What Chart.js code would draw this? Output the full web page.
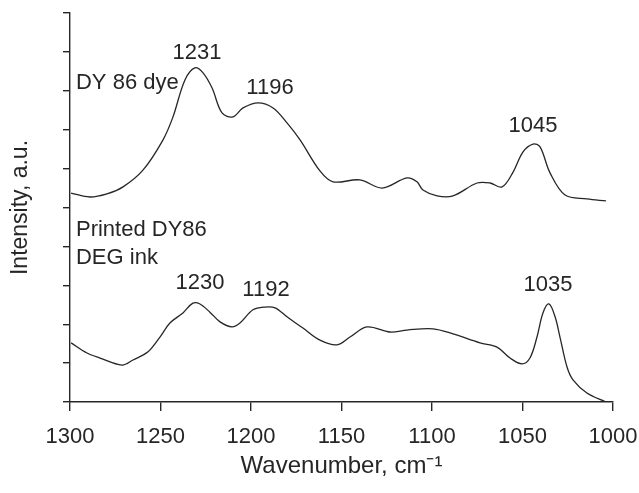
<!DOCTYPE html>
<html>
<head>
<meta charset="utf-8">
<script src="https://cdn.jsdelivr.net/npm/chart.js@4/dist/chart.umd.min.js"></script>
<style>
  html, body { margin: 0; padding: 0; background: #fff; }
  #wrap { width: 639px; height: 493px; }
</style>
</head>
<body>
<div id="wrap"><canvas id="c" width="639" height="493"></canvas></div>
<script>
// ---- Data ----
const dyeWavenumber = [1299.4, 1289, 1279.6, 1270.7, 1259.7, 1248.6, 1243.1, 1236.5, 1231, 1226.5, 1221.5, 1216, 1210, 1204.4, 1196.1, 1187.8, 1180, 1172.9, 1161.9, 1154.7, 1139.8, 1127.6, 1113.8, 1108.3, 1105, 1097.2, 1088.4, 1075.1, 1067.9, 1061.3, 1055.2, 1049.7, 1044.2, 1040.3, 1034.8, 1026.5, 1014.4, 1003.9];
const dyeIntensity = [5.37, 5.27, 5.35, 5.53, 5.96, 6.74, 7.33, 8.28, 8.59, 8.46, 8.07, 7.43, 7.33, 7.56, 7.69, 7.56, 7.17, 6.74, 5.94, 5.66, 5.71, 5.50, 5.76, 5.66, 5.45, 5.30, 5.30, 5.63, 5.63, 5.53, 5.91, 6.43, 6.63, 6.56, 5.89, 5.32, 5.22, 5.17];

const inkWavenumber = [1299.4, 1290.6, 1283.4, 1271.3, 1265.2, 1256.9, 1250.3, 1244.8, 1237.6, 1232.1, 1228.2, 1222.7, 1217.1, 1210.5, 1206.1, 1198.9, 1192.3, 1186.7, 1180.1, 1171.3, 1161.9, 1152.5, 1145.3, 1135.9, 1123.2, 1113.8, 1099.4, 1088.4, 1073.5, 1064.1, 1056.9, 1050.3, 1045.9, 1042, 1038.7, 1035.4, 1032, 1029.3, 1025.4, 1022.1, 1014.4, 1003.9];
const inkIntensity = [1.52, 1.26, 1.13, 0.95, 1.08, 1.29, 1.67, 2.03, 2.29, 2.54, 2.52, 2.31, 2.06, 1.93, 2.03, 2.37, 2.44, 2.42, 2.19, 1.90, 1.59, 1.47, 1.67, 1.93, 1.80, 1.85, 1.88, 1.75, 1.52, 1.41, 1.13, 0.98, 1.13, 1.67, 2.29, 2.52, 2.19, 1.67, 0.90, 0.57, 0.23, 0.0];

const xTickValues = [1300, 1250, 1200, 1150, 1100, 1050, 1000];

// Text annotations anchored in data units
const annoText = ['1231', '1196', '1045', '1230', '1192', '1035', 'DY 86 dye', 'Printed DY86', 'DEG ink'];
const annoX    = [1229.8, 1189.5, 1044.2, 1228.2, 1191.7, 1035.9, 1296.7, 1296.7, 1296.7];
const annoY    = [8.97, 8.07, 7.10, 3.06, 2.88, 3.01, 8.2, 4.42, 3.70];
const annoAlign = ['center', 'center', 'center', 'center', 'center', 'center', 'left', 'left', 'left'];

const toPoints = (xs, ys) => xs.map((x, i) => ({ x: x, y: ys[i] }));

const FONT = 'Liberation Sans, Arial, Helvetica, sans-serif';
const INK = '#262626';

const annotationPlugin = {
  id: 'annotations',
  afterDatasetsDraw(chart) {
    const { ctx, scales } = chart;
    ctx.save();
    ctx.fillStyle = INK;
    ctx.font = '22px ' + FONT;
    ctx.textBaseline = 'middle';
    annoText.forEach((t, i) => {
      ctx.textAlign = annoAlign[i];
      ctx.fillText(t, scales.x.getPixelForValue(annoX[i]), scales.y.getPixelForValue(annoY[i]));
    });
    ctx.restore();
  }
};

new Chart(document.getElementById('c'), {
  type: 'line',
  data: {
    datasets: [
      { label: 'DY 86 dye', data: toPoints(dyeWavenumber, dyeIntensity) },
      { label: 'Printed DY86 DEG ink', data: toPoints(inkWavenumber, inkIntensity) }
    ]
  },
  options: {
    responsive: false,
    animation: false,
    devicePixelRatio: 1,
    layout: { padding: { left: 0, right: 26, top: 13, bottom: 0 } },
    elements: {
      line: { borderColor: INK, borderWidth: 1.3, tension: 0.35, fill: false },
      point: { radius: 0, hoverRadius: 0 }
    },
    plugins: {
      legend: { display: false },
      tooltip: { enabled: false }
    },
    scales: {
      x: {
        type: 'linear',
        reverse: true,
        min: 1000,
        max: 1300,
        afterBuildTicks(scale) { scale.ticks = xTickValues.map(v => ({ value: v })); },
        afterFit(scale) { scale.height = 91; scale.paddingLeft = 0; scale.paddingRight = 0; },
        ticks: { color: INK, font: { family: FONT, size: 22 }, padding: 13, maxRotation: 0, autoSkip: false, callback: v => String(v) },
        grid: { drawOnChartArea: false, drawTicks: true, tickLength: 9, color: INK, lineWidth: 1.4 },
        border: { display: true, color: INK, width: 1.4 },
        title: { display: true, text: 'Wavenumber, cm\u207B\u00B9', color: INK, font: { family: FONT, size: 24 }, padding: { bottom: 12, top: 0 } }
      },
      y: {
        type: 'linear',
        min: 0,
        max: 10,
        afterFit(scale) { scale.width = 70; scale.paddingTop = 0; scale.paddingBottom = 0; },
        ticks: { display: false, stepSize: 1 },
        grid: { drawOnChartArea: false, drawTicks: true, tickLength: 7, color: INK, lineWidth: 1.4 },
        border: { display: true, color: INK, width: 1.4 },
        title: { display: true, text: 'Intensity, a.u.', color: INK, font: { family: FONT, size: 23 }, padding: { top: 7, bottom: 0 } }
      }
    }
  },
  plugins: [annotationPlugin]
});
</script>
</body>
</html>
